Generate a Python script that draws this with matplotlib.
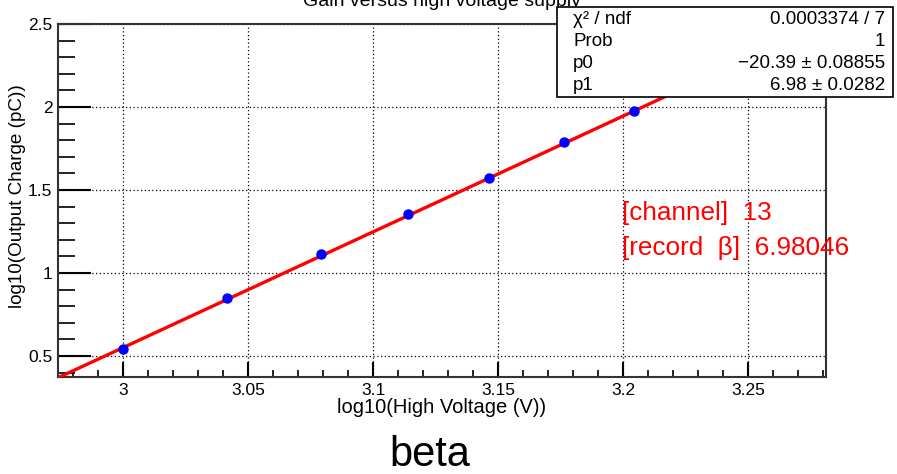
import matplotlib

matplotlib.use("Agg")
import matplotlib.pyplot as plt
import numpy as np
from matplotlib.ticker import MultipleLocator

plt.rcParams["font.family"] = ["Liberation Sans", "DejaVu Sans"]

# log10 of the HV points and the measured charge
log_hv = [3.0, 3.0414, 3.0792, 3.1139, 3.1461, 3.1761, 3.2041]
log_charge = [0.542, 0.849, 1.114, 1.355, 1.572, 1.789, 1.976]

# linear fit result  y = p0 + p1 * x
p0, p0_err = -20.39, 0.08855
p1, p1_err = 6.98, 0.0282
chi2, ndf = 0.0003374, 7
channel = 13
beta_record = 6.98046

W, H = 897, 474
fig = plt.figure(figsize=(W / 100, H / 100), dpi=100)
ax = fig.add_axes([58 / W, 1 - 377 / H, (826 - 58) / W, (377 - 24) / H])

xmin, xmax = 2.974, 3.281
ymin, ymax = 0.373, 2.5
ax.set_xlim(xmin, xmax)
ax.set_ylim(ymin, ymax)

xs = np.linspace(xmin, xmax, 200)
ax.plot(xs, p0 + p1 * xs, color="#ff0000", lw=2.4, zorder=3)
ax.plot(log_hv, log_charge, "o", color="#0000ff", ms=6.5, zorder=4)

ax.xaxis.set_major_locator(MultipleLocator(0.05))
ax.xaxis.set_minor_locator(MultipleLocator(0.01))
ax.yaxis.set_major_locator(MultipleLocator(0.5))
ax.yaxis.set_minor_locator(MultipleLocator(0.1))
ax.tick_params(axis="x", which="major", direction="in", length=11, width=1.5,
               labelsize=12.5, pad=4, top=False)
ax.tick_params(axis="x", which="minor", direction="in", length=5, width=1.2, top=False)
ax.tick_params(axis="y", which="major", direction="in", length=24, width=1.5,
               labelsize=12.5, pad=4, right=False)
ax.tick_params(axis="y", which="minor", direction="in", length=12, width=1.2, right=False)
ax.xaxis.set_major_formatter(plt.FuncFormatter(lambda v, _: f"{v:g}"))
ax.yaxis.set_major_formatter(plt.FuncFormatter(lambda v, _: f"{v:g}"))
ax.grid(True, which="major", color="black", linestyle=(0, (1, 2)), lw=0.9)
for s in ax.spines.values():
    s.set_linewidth(1.5)
    s.set_color("#333333")

ax.set_xlabel("log10(High Voltage (V))", fontsize=14.5, labelpad=0)
ax.set_ylabel("log10(Output Charge (pC))", fontsize=13.6, va="center")
ax.yaxis.set_label_coords(-40 / 768, 181 / 353)

fig.text(442 / W, 1 - 1 / H, "Gain versus high voltage supply", fontsize=14,
         ha="center", va="center")

# fit statistics box
bx0, by0, bx1, by1 = 557, 7, 893, 97
fig.patches.append(plt.Rectangle((bx0 / W, 1 - by1 / H), (bx1 - bx0) / W, (by1 - by0) / H,
                                 transform=fig.transFigure, facecolor="white",
                                 edgecolor="black", lw=1.2, zorder=5))
rows = [
    ("\u03c7\u00b2 / ndf", f"{chi2:.7f} / {ndf}"),
    ("Prob", "1"),
    ("p0", f"\u2212{abs(p0):.2f} \u00b1 {p0_err}"),
    ("p1", f"{p1:.2f} \u00b1 {p1_err}"),
]
for i, (name, val) in enumerate(rows):
    y = 1 - (20 + 21.7 * i) / H
    fig.text(573 / W, y, name, fontsize=13.5, ha="left", va="center", zorder=6)
    fig.text(885 / W, y, val, fontsize=13.5, ha="right", va="center", zorder=6)

ax.text(622 / W, 1 - 213 / H, f"[channel]  {channel}", transform=fig.transFigure,
        color="#ff0000", fontsize=18.8, ha="left", va="center")
ax.text(622 / W, 1 - 248 / H, f"[record  \u03b2]  {beta_record}", transform=fig.transFigure,
        color="#ff0000", fontsize=18.8, ha="left", va="center")

fig.text(430 / W, 1 - 455 / H, "beta", fontsize=30, ha="center", va="center")

fig.savefig("out.png", dpi=100)
